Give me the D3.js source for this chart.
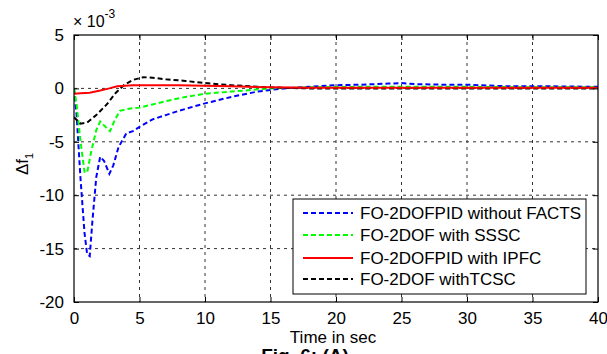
<!DOCTYPE html>
<html>
<head>
<meta charset="utf-8">
<script src="https://cdn.jsdelivr.net/npm/d3@7"></script>
<style>
  html, body { margin: 0; padding: 0; background: #fff; }
  svg { display: block; }
  text { font-family: Arial, "Liberation Sans", sans-serif; }
</style>
</head>
<body>
<svg id="chart" width="607" height="354"></svg>
<script>
// Frequency deviation Δf1 (×10^-3) versus time for four controller setups
const tWithout = [0, 0.2, 0.5, 0.8, 1.0, 1.2, 1.4, 1.7, 2.0, 2.3, 2.7, 3.0, 3.4, 4.0, 4.5, 5, 6, 7, 8, 10, 12, 14, 16, 18, 20, 22, 24, 25, 26, 28, 30, 33, 36, 40];
const fWithout = [0, -2.5, -8.5, -13.5, -15.5, -15.7, -12.5, -8.3, -6.4, -6.8, -8.0, -7.2, -5.5, -4.2, -4.0, -3.6, -2.9, -2.5, -2.1, -1.4, -0.8, -0.3, 0.0, 0.15, 0.3, 0.35, 0.45, 0.5, 0.4, 0.35, 0.35, 0.2, 0.2, 0.15];

const tSSSC = [0, 0.2, 0.5, 0.8, 1.0, 1.3, 1.7, 2.0, 2.4, 2.75, 3.1, 3.5, 4.2, 5, 6, 7, 8.5, 10, 12, 13, 15, 18, 22, 26, 30, 35, 40];
const fSSSC = [0, -1.5, -5.0, -7.8, -7.9, -6.0, -3.9, -3.1, -3.6, -4.0, -3.0, -2.1, -1.9, -1.8, -1.5, -1.2, -0.8, -0.5, -0.3, -0.2, 0.0, 0.1, 0.15, 0.15, 0.15, 0.1, 0.1];

const tIPFC = [0, 0.5, 1.2, 2.0, 2.7, 3.3, 4.5, 6, 8, 10, 12, 15, 18, 25, 32, 40];
const fIPFC = [-0.5, -0.45, -0.4, -0.2, 0.0, 0.2, 0.3, 0.3, 0.3, 0.25, 0.2, 0.1, 0.05, 0.05, 0.05, 0.05];

const tTCSC = [0, 0.5, 1.0, 1.7, 2.5, 3.2, 3.8, 4.5, 5.3, 6, 7, 8.5, 10, 12, 14, 16, 18, 25, 32, 40];
const fTCSC = [-2.7, -3.3, -3.2, -2.5, -1.5, -0.4, 0.3, 0.8, 1.05, 1.0, 0.85, 0.7, 0.5, 0.3, 0.15, 0.05, 0.0, 0.0, 0.0, 0.0];

const xTicks = [0, 5, 10, 15, 20, 25, 30, 35, 40];
const yTicks = [5, 0, -5, -10, -15, -20];

const seriesNames = ["FO-2DOFPID without FACTS", "FO-2DOF with SSSC", "FO-2DOFPID with IPFC", "FO-2DOF withTCSC"];
const seriesColors = ["#0000ff", "#00ff00", "#ff0000", "#000000"];
const seriesDash = ["5,3", "5,3", null, "5,3"];
const seriesT = [tWithout, tSSSC, tIPFC, tTCSC];
const seriesF = [fWithout, fSSSC, fIPFC, fTCSC];

const svg = d3.select("#chart");
const L = 74, R = 598, T = 35, B = 302;
const FS = 17;

const x = d3.scaleLinear().domain([0, 40]).range([L, R]);
const y = d3.scaleLinear().domain([-20, 5]).range([B, T]);

// grid
const grid = svg.append("g");
xTicks.slice(1, -1).forEach(v => {
  grid.append("line").attr("x1", x(v)).attr("x2", x(v)).attr("y1", T).attr("y2", B)
    .attr("stroke", "#333").attr("stroke-width", 1).attr("stroke-dasharray", "3,4");
});
yTicks.slice(1, -1).forEach(v => {
  grid.append("line").attr("x1", L).attr("x2", R).attr("y1", y(v)).attr("y2", y(v))
    .attr("stroke", "#333").attr("stroke-width", 1).attr("stroke-dasharray", "3,4");
});

// clip for the curves
svg.append("clipPath").attr("id", "plotclip").append("rect")
  .attr("x", L).attr("y", T).attr("width", R - L).attr("height", B - T);

const line = d3.line().x(d => x(d[0])).y(d => y(d[1]));
const curves = svg.append("g").attr("clip-path", "url(#plotclip)");
// draw order: blue, green, black, then red on top
[0, 1, 3, 2].forEach(i => {
  const pts = seriesT[i].map((t, k) => [t, seriesF[i][k]]);
  curves.append("path").datum(pts).attr("d", line)
    .attr("fill", "none").attr("stroke", seriesColors[i]).attr("stroke-width", 2)
    .attr("stroke-dasharray", seriesDash[i]);
});

// axes (ticks inward, box on all sides)
const fmt = d => String(d);
const axB = svg.append("g").attr("transform", `translate(0,${B})`)
  .call(d3.axisBottom(x).tickValues(xTicks).tickSizeInner(-5).tickSizeOuter(0).tickPadding(10).tickFormat(fmt));
const axT = svg.append("g").attr("transform", `translate(0,${T})`)
  .call(d3.axisTop(x).tickValues(xTicks).tickSizeInner(-5).tickSizeOuter(0).tickFormat(""));
const axL = svg.append("g").attr("transform", `translate(${L},0)`)
  .call(d3.axisLeft(y).tickValues(yTicks).tickSizeInner(-5).tickSizeOuter(0).tickPadding(10).tickFormat(fmt));
const axR = svg.append("g").attr("transform", `translate(${R},0)`)
  .call(d3.axisRight(y).tickValues(yTicks).tickSizeInner(-5).tickSizeOuter(0).tickFormat(""));
[axB, axT, axL, axR].forEach(a => {
  a.select(".domain").remove();
  a.selectAll(".tick line").attr("stroke", "#000");
  a.selectAll("text").attr("font-size", FS).attr("fill", "#000")
    .attr("font-family", "Arial, 'Liberation Sans', sans-serif");
});
svg.append("rect").attr("x", L).attr("y", T).attr("width", R - L).attr("height", B - T)
  .attr("fill", "none").attr("stroke", "#000").attr("stroke-width", 1.2);

// exponent label
const ex = svg.append("text").attr("x", 73).attr("y", 27).attr("font-size", 16).attr("fill", "#000");
ex.append("tspan").text("\u00d7 10");
ex.append("tspan").attr("dy", -9).attr("font-size", 12).text("-3");

// y label
const yl = svg.append("text").attr("transform", "translate(28,164) rotate(-90)")
  .attr("text-anchor", "middle").attr("font-size", FS).attr("fill", "#000");
yl.append("tspan").text("\u0394f");
yl.append("tspan").attr("dy", 5).attr("font-size", 11).text("1");

// x label
svg.append("text").attr("x", 333).attr("y", 343).attr("text-anchor", "middle")
  .attr("font-size", FS).attr("fill", "#000").text("Time in sec");

// caption (runs past the bottom edge)
svg.append("text").attr("x", 305).attr("y", 362).attr("text-anchor", "middle")
  .attr("font-family", "'Liberation Serif', 'Times New Roman', serif").attr("font-weight", "bold")
  .attr("font-size", 19).attr("fill", "#000").text("Fig. 6: (A)");

// legend
const lg = svg.append("g");
lg.append("rect").attr("x", 293).attr("y", 199).attr("width", 293).attr("height", 95)
  .attr("fill", "#fff").attr("stroke", "#000").attr("stroke-width", 1);
const rowsY = [213, 235, 258, 279];
seriesNames.forEach((name, i) => {
  lg.append("line").attr("x1", 303).attr("x2", 353).attr("y1", rowsY[i]).attr("y2", rowsY[i])
    .attr("stroke", seriesColors[i]).attr("stroke-width", 2).attr("stroke-dasharray", seriesDash[i]);
  lg.append("text").attr("x", 360).attr("y", rowsY[i]).attr("dy", "0.35em")
    .attr("font-size", FS).attr("fill", "#000").text(name);
});
</script>
</body>
</html>
